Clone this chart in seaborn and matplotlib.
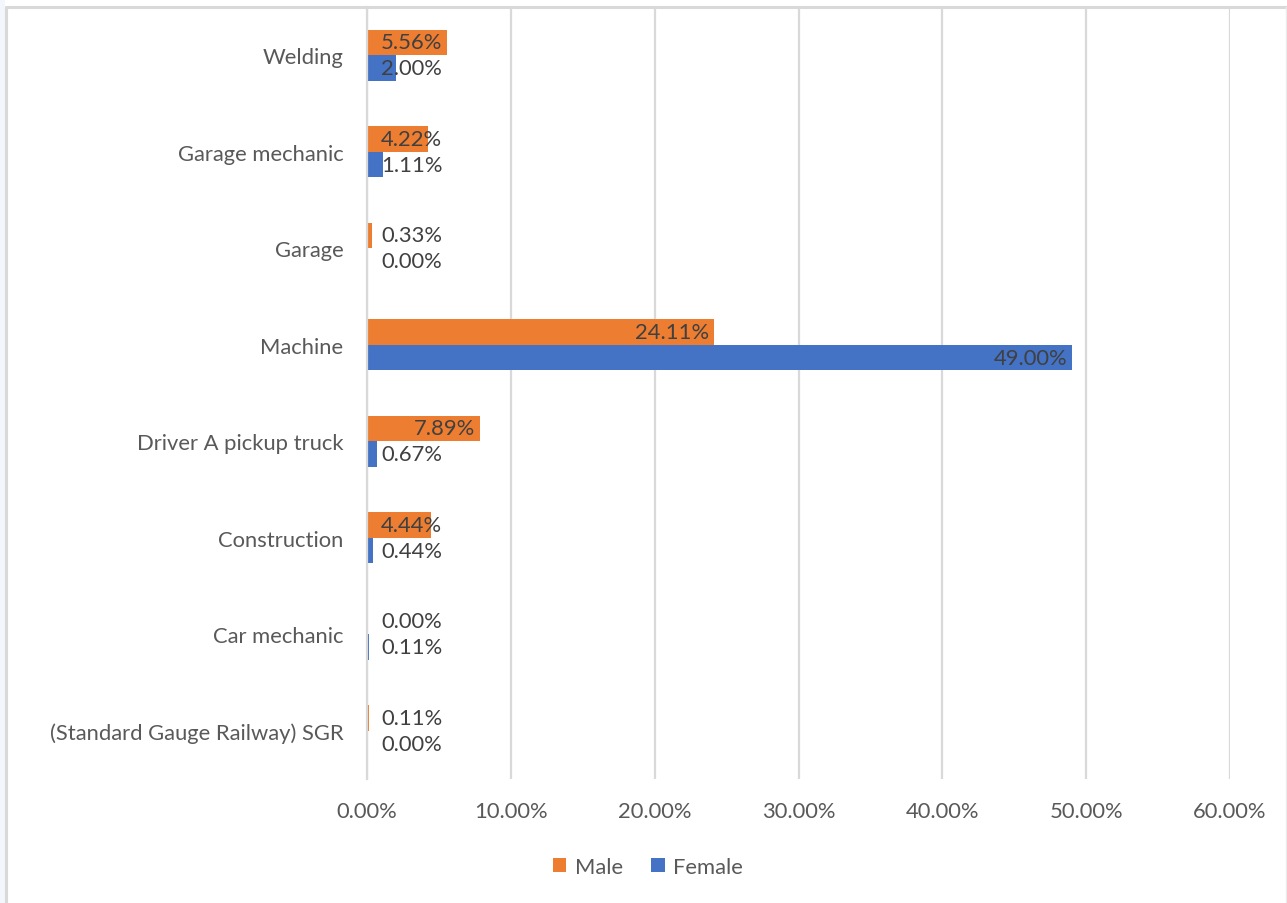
import matplotlib
matplotlib.use("Agg")
import matplotlib.pyplot as plt
import seaborn as sns
import pandas as pd
from matplotlib.patches import Rectangle, Patch
from matplotlib.lines import Line2D
from matplotlib.ticker import FuncFormatter

categories = ["Welding", "Garage mechanic", "Garage", "Machine",
              "Driver A pickup truck", "Construction", "Car mechanic",
              "(Standard Gauge Railway) SGR"]
male = [5.56, 4.22, 0.33, 24.11, 7.89, 4.44, 0.00, 0.11]
female = [2.00, 1.11, 0.00, 49.00, 0.67, 0.44, 0.11, 0.00]
series = ["Male", "Female"]
colors = {"Male": "#ED7D31", "Female": "#4472C4"}
xticks = [0, 10, 20, 30, 40, 50, 60]

df = pd.DataFrame({
    "category": categories * 2,
    "value": male + female,
    "gender": ["Male"] * len(categories) + ["Female"] * len(categories),
})

sns.set_theme(style="white")
plt.rcParams["font.family"] = ["Lato", "DejaVu Sans"]

FS = 15.8
W, H = 1287, 904
fig = plt.figure(figsize=(W / 100, H / 100), dpi=100)
ax = fig.add_axes([367 / W, 1 - 780 / H, (1230 - 367) / W, (780 - 8) / H])

sns.barplot(data=df, y="category", x="value", hue="gender", hue_order=series,
            order=categories, orient="h", palette=colors, width=0.53,
            dodge=True, ax=ax, legend=False, saturation=1, linewidth=0)

ax.set_xlim(0, 60)
ax.set_ylim(7.5, -0.5)
ax.set_xticks(xticks)
ax.xaxis.set_major_formatter(FuncFormatter(lambda v, p: f"{v:.2f}%"))
ax.grid(axis="x", color="#D9D9D9", linewidth=1.6)
ax.set_axisbelow(True)
for s in ["top", "right", "bottom"]:
    ax.spines[s].set_visible(False)
ax.spines["left"].set_color("#D9D9D9")
ax.spines["left"].set_linewidth(1.6)
ax.tick_params(axis="both", length=0, labelsize=FS, colors="#595959")
ax.tick_params(axis="y", pad=17)
ax.tick_params(axis="x", pad=16)
ax.set_xlabel("")
ax.set_ylabel("")

# data labels
for cont, name in zip(ax.containers, series):
    for patch in cont:
        v = patch.get_width()
        yc = patch.get_y() + patch.get_height() / 2
        if v >= 5.0:
            ax.annotate(f"{v:.2f}%", (v, yc), xytext=(-3.5, 0),
                        textcoords="offset points", ha="right", va="center",
                        fontsize=FS, color="#404040")
        else:
            ax.annotate(f"{v:.2f}%", (0, yc), xytext=(10, 0),
                        textcoords="offset points", ha="left", va="center",
                        fontsize=FS, color="#404040")

# legend
handles = [Patch(facecolor=colors[s], edgecolor="none", label=s) for s in series]
fig.legend(handles=handles, loc="center", bbox_to_anchor=(648 / W, 1 - 868 / H),
           ncol=2, frameon=False, fontsize=FS, handlelength=0.6,
           handleheight=0.6, handletextpad=0.4, columnspacing=1.3,
           labelcolor="#595959")

# outer chart border (left, top, faint right) and light strip on the left
fig.patches.append(Rectangle((0, 0), 5 / W, 1, transform=fig.transFigure,
                             facecolor="#F3F7FB", edgecolor="none"))
fig.lines.append(Line2D([6 / W, 6 / W], [0, 1 - 8 / H], transform=fig.transFigure,
                        color="#D9D9D9", linewidth=2.2))
fig.lines.append(Line2D([6 / W, 1], [1 - 8 / H, 1 - 8 / H], transform=fig.transFigure,
                        color="#D9D9D9", linewidth=2.2))
fig.lines.append(Line2D([1286 / W, 1286 / W], [0, 1 - 8 / H], transform=fig.transFigure,
                        color="#EBEBEB", linewidth=1.0))

fig.savefig("out.png", dpi=100)
